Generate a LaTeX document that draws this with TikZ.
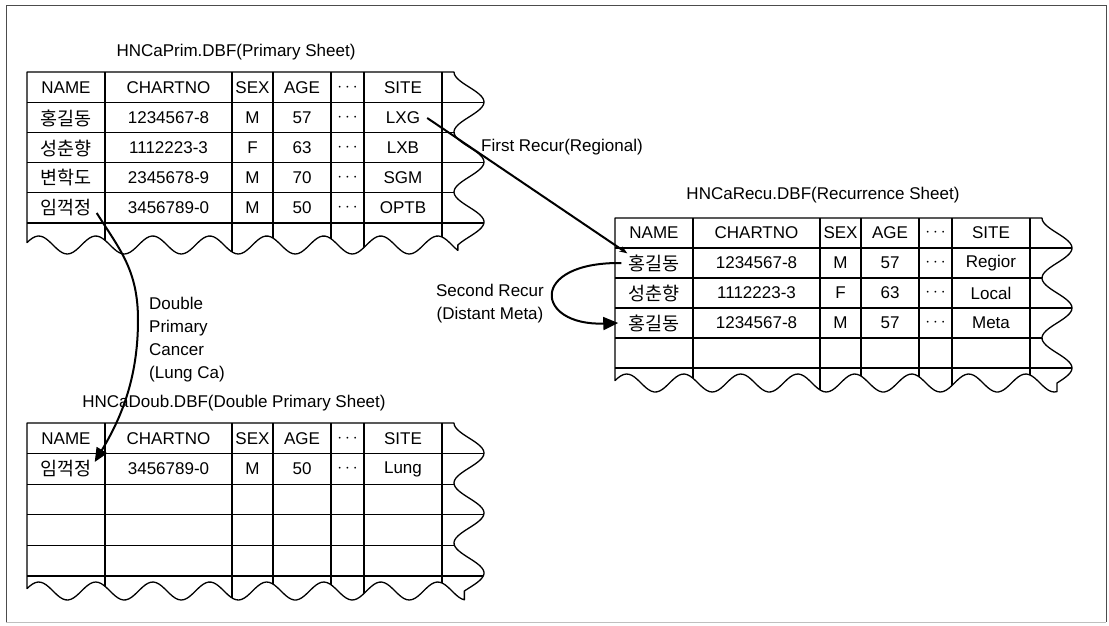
\documentclass[tikz,border=0pt]{standalone}
\usepackage{fontspec}
\setmainfont{Liberation Sans}
\newfontfamily\kr{Noto Sans CJK KR}
\usetikzlibrary{arrows.meta}

\tikzset{
  sheetline/.style={line width=1.3pt, line join=round},
  frameline/.style={line width=0.9pt, black!70},
  cell/.style={font=\fontsize{17}{20}\selectfont, inner sep=1pt},
  krcell/.style={font=\kr\fontsize{18.5}{20}\selectfont, inner sep=1pt},
  sheettitle/.style={font=\fontsize{17}{20}\selectfont, inner sep=1pt},
  lbl/.style={font=\fontsize{17}{23}\selectfont, inner sep=1pt},
  link/.style={line width=2pt},
}

% table outline and grid: #1 x0, #2 top, #3 row height, #4 inner row lines, #5 bottom wave middle
\newcommand\drawsheet[5]{%
  \pgfmathsetmacro\shR{#1+427}%
  \pgfmathsetmacro\shE{\shR+15-15*cos(6*(#5-#2))}%
  \def\shpath{(#1,#2) -- (\shR,#2)
    -- plot[domain=#2:#5,samples=80] ({\shR+15-15*cos(6*(\x-#2))},\x)
    -- plot[domain=\shE:#1,samples=160] (\x,{#5+9*sin(6.3158*(\x-#1-26))}) -- cycle}%
  \begin{scope}
    \clip \shpath;
    \foreach \kk in {1,...,#4} \draw[sheetline] (#1-5,#2+\kk*#3) -- (#1+520,#2+\kk*#3);
    \foreach \cc in {78,205,246,304,337,415} \draw[sheetline] (#1+\cc,#2-2) -- (#1+\cc,#5+20);
  \end{scope}
  \draw[sheetline] \shpath;
}

% header row: #1 prefix, #2 x0, #3 y
\newcommand\headrow[3]{%
  \node[cell] (#1n) at (#2+39,#3) {NAME};
  \node[cell] (#1c) at (#2+141.5,#3) {CHARTNO};
  \node[cell] (#1s) at (#2+225.5,#3) {SEX};
  \node[cell] (#1a) at (#2+275,#3) {AGE};
  \node[cell] (#1d) at (#2+320.5,#3) {$\cdots$};
  \node[cell] (#1t) at (#2+376,#3) {SITE};
}
% data row: #1 prefix, #2 x0, #3 y, #4 name, #5 chartno, #6 sex, #7 age, #8 site
\newcommand\datarow[8]{%
  \node[krcell] (#1n) at (#2+39,#3) {#4};
  \node[cell] (#1c) at (#2+141.5,#3) {#5};
  \node[cell] (#1s) at (#2+225.5,#3) {#6};
  \node[cell] (#1a) at (#2+275,#3) {#7};
  \node[cell] (#1d) at (#2+320.5,#3) {$\cdots$};
  \node[cell] (#1t) at (#2+376,#3) {#8};
}

\begin{document}
\begin{tikzpicture}[x=1pt,y=-1pt]
\useasboundingbox (0,0) rectangle (1109,625);

% page frame
\draw[frameline] (6,622) -- (6,5) -- (1106,5) -- (1106,622);
\draw[line width=0.8pt, black!25] (6,622) -- (1106,622);

% ---------- Primary sheet ----------
\node[sheettitle] (ptitle) at (236,52) {HNCaPrim.DBF(Primary Sheet)};
\drawsheet{27}{72}{30.2}{5}{245}
\headrow{ph}{27}{87.5}
\datarow{p1}{27}{118}{홍길동}{1234567-8}{M}{57}{LXG}
\datarow{p2}{27}{148}{성춘향}{1112223-3}{F}{63}{LXB}
\datarow{p3}{27}{178}{변학도}{2345678-9}{M}{70}{SGM}
\datarow{p4}{27}{208}{임꺽정}{3456789-0}{M}{50}{OPTB}

% ---------- Recurrence sheet ----------
\node[sheettitle] (rtitle) at (823,195) {HNCaRecu.DBF(Recurrence Sheet)};
\drawsheet{615}{218}{30}{5}{383}
\headrow{rh}{615}{233}
\datarow{r1}{615}{263}{홍길동}{1234567-8}{M}{57}{Regior}
\datarow{r2}{615}{293}{성춘향}{1112223-3}{F}{63}{Local}
\datarow{r3}{615}{323}{홍길동}{1234567-8}{M}{57}{Meta}

% ---------- Double primary sheet ----------
\node[sheettitle] (dtitle) at (234,403) {HNCaDoub.DBF(Double Primary Sheet)};
\drawsheet{27}{423}{30.6}{5}{591}
\headrow{dh}{27}{438.5}
\datarow{d1}{27}{469}{임꺽정}{3456789-0}{M}{50}{Lung}

% ---------- labels ----------
\node[lbl, anchor=west] (lfirst) at (480,147) {First Recur(Regional)};
\node[lbl, align=center] (lsecond) at (490,304) {Second Recur\\(Distant Meta)};
\node[lbl, align=left, anchor=west] (ldouble) at (148,340) {Double\\Primary\\Cancer\\(Lung Ca)};

% ---------- connectors ----------
\draw[link, -{Stealth[length=8pt,width=6pt]}] ([xshift=6pt]p1t.east) -- (r1n.north west);
\draw[link, -{Triangle[length=15pt,width=13pt]}]
  ([xshift=-6pt]r1n.west) .. controls (528,262) and (535,326) .. ([xshift=-9pt]r3n.west);
\draw[link, -{Triangle[length=14pt,width=12pt]}]
  ([xshift=4pt,yshift=-5pt]p4n.east) .. controls (120,250) and (138,270) .. (138,320)
  .. controls (138,380) and (120,420) .. ([xshift=2pt,yshift=7pt]d1n.east);
\end{tikzpicture}
\end{document}
